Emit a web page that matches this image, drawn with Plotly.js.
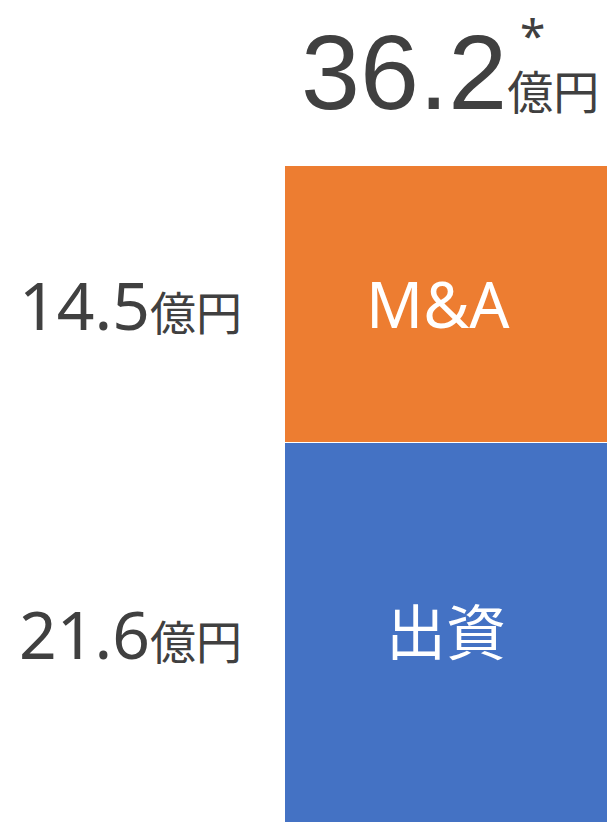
<!DOCTYPE html>
<html>
<head>
<meta charset="utf-8">
<script src="https://cdn.plot.ly/plotly-3.0.1.min.js"></script>
<style>html,body{margin:0;padding:0;background:#fff;}#chart{width:608px;height:822px;}</style>
</head>
<body>
<div id="chart"></div>
<script>
// Data
const segments = ["出資", "M&A"];
const values = [21.6, 14.5];
const totalValue = 36.2;
const unit = "億円";
const colors = ["#4472C4", "#ED7D31"];

const W = 608, H = 822;
const textColor = "#404040";
const numFont = "Noto Sans, Noto Sans CJK JP, sans-serif";
const totalFont = "Liberation Sans, Noto Sans CJK JP, sans-serif";

const traces = segments.map((s, i) => ({
  type: "bar",
  x: [0],
  y: [values[i]],
  width: [1],
  name: s,
  marker: {color: colors[i], line: {color: "#ffffff", width: 1}},
  hoverinfo: "skip"
}));

// cumulative positions
const cum = [];
let acc = 0;
values.forEach(v => { cum.push(acc + v / 2); acc += v; });

const annotations = [];
// left value labels
const leftShift = [15, 0];
values.forEach((v, i) => {
  annotations.push({
    xref: "paper", yref: "y", x: 130 / W, y: cum[i], xanchor: "center", yanchor: "middle",
    yshift: leftShift[i],
    text: v.toFixed(1) + "<span style='font-size:46px'>" + unit + "</span>",
    showarrow: false, font: {family: numFont, size: 66, color: textColor}
  });
});
// segment names inside bar
const nameShift = [16, 0];
const nameXShift = [0, -8];
const nameSize = [60, 63];
segments.forEach((s, i) => {
  annotations.push({
    xref: "x", yref: "y", x: 0, y: cum[i], xanchor: "center", yanchor: "middle",
    yshift: nameShift[i], xshift: nameXShift[i],
    text: s, showarrow: false,
    font: {family: numFont, size: nameSize[i], color: "#ffffff"}
  });
});
// total
annotations.push({
  xref: "paper", yref: "paper", x: 450 / W, y: 1 - 72 / H, xanchor: "center", yanchor: "middle",
  text: totalValue.toFixed(1) + "<span style='font-size:46px'>" + unit + "</span>",
  showarrow: false, font: {family: totalFont, size: 106, color: textColor}
});
annotations.push({
  xref: "paper", yref: "paper", x: 532 / W, y: 1 - 2 / H, xanchor: "center", yanchor: "top",
  text: "*", showarrow: false, font: {family: numFont, size: 46, color: textColor}
});

const layout = {
  width: W, height: H,
  margin: {l: 0, r: 0, t: 0, b: 0, pad: 0},
  paper_bgcolor: "#ffffff", plot_bgcolor: "#ffffff",
  barmode: "stack",
  showlegend: false,
  xaxis: {range: [-0.5 - 284 / 323, 0.5 + 1 / 323], visible: false, fixedrange: true},
  yaxis: {range: [1.7, 44.75], visible: false, fixedrange: true},
  annotations: annotations
};

Plotly.newPlot("chart", traces, layout, {staticPlot: true, displayModeBar: false});
</script>
</body>
</html>
